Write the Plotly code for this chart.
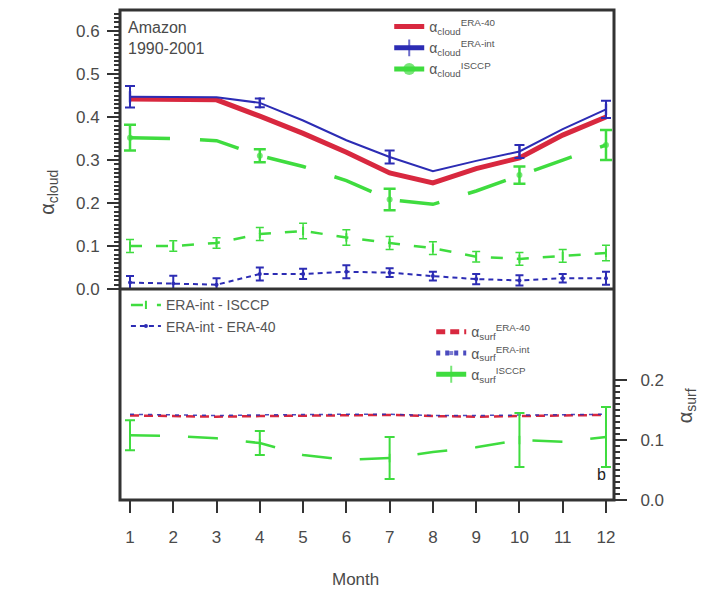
import numpy as np
import plotly.graph_objects as go

# ---- data ----
months = list(range(1, 13))

cloud_era40 = [0.442, 0.442, 0.440, 0.402, 0.362, 0.318, 0.270, 0.247, 0.280, 0.305, 0.358, 0.400]
cloud_erai = [0.447, 0.447, 0.446, 0.433, 0.392, 0.346, 0.307, 0.274, 0.298, 0.320, 0.372, 0.418]
cloud_erai_err = [0.025, None, None, 0.010, None, None, 0.015, None, None, 0.015, None, 0.020]
cloud_isccp = [0.352, 0.350, 0.345, 0.310, 0.285, 0.252, 0.208, 0.197, 0.228, 0.265, 0.300, 0.335]
cloud_isccp_err = [0.030, None, None, 0.015, None, None, 0.025, None, None, 0.020, None, 0.035]

diff_isccp = [0.100, 0.100, 0.107, 0.128, 0.135, 0.120, 0.107, 0.095, 0.075, 0.070, 0.077, 0.084]
diff_isccp_err = [0.015, 0.012, 0.012, 0.015, 0.018, 0.018, 0.015, 0.015, 0.012, 0.015, 0.015, 0.018]
diff_era40 = [0.015, 0.013, 0.010, 0.035, 0.035, 0.040, 0.038, 0.030, 0.023, 0.020, 0.025, 0.025]
diff_era40_err = [0.015, 0.018, 0.015, 0.015, 0.012, 0.015, 0.010, 0.010, 0.012, 0.012, 0.010, 0.015]

surf_era40 = [0.141, 0.140, 0.139, 0.140, 0.141, 0.142, 0.142, 0.140, 0.139, 0.140, 0.141, 0.142]
surf_erai = [0.143, 0.142, 0.141, 0.142, 0.143, 0.143, 0.143, 0.141, 0.141, 0.142, 0.143, 0.143]
surf_isccp = [0.108, 0.107, 0.103, 0.095, 0.075, 0.067, 0.070, 0.080, 0.088, 0.100, 0.097, 0.105]
surf_isccp_err = [0.025, None, None, 0.020, None, None, 0.035, None, None, 0.045, None, 0.050]

cloud_ticks = [0.0, 0.1, 0.2, 0.3, 0.4, 0.5, 0.6]
surf_ticks = [0.0, 0.1, 0.2]
region_label = "Amazon<br>1990-2001"


def arr(values):
    return np.array([np.nan if v is None else v for v in values], dtype=float)


def sizes(err, s):
    # marker only where an error bar is drawn
    return [s if e is not None else 0 for e in err]


RED = "#d8283f"
BLUE = "#2c2cb4"
GREEN = "#3fdc3f"
FRAME = "#333333"
TXT = "#4a4a4a"
FONT = "Liberation Sans, Arial, sans-serif"

fig = go.Figure()

# ---- top panel: cloud albedo ----
fig.add_trace(go.Scatter(
    x=months, y=cloud_era40, mode="lines", xaxis="x2", yaxis="y",
    line=dict(color=RED, width=5), legend="legend",
    name="α<sub>cloud</sub><sup>ERA-40</sup>"))
fig.add_trace(go.Scatter(
    x=months, y=cloud_erai, mode="lines+markers", xaxis="x2", yaxis="y",
    line=dict(color=BLUE, width=2), legend="legend",
    marker=dict(symbol="line-ns-open", size=sizes(cloud_erai_err, 8),
                line=dict(color=BLUE, width=2.5)),
    error_y=dict(type="data", array=arr(cloud_erai_err), color=BLUE,
                 thickness=2, width=5),
    name="α<sub>cloud</sub><sup>ERA-int</sup>"))
fig.add_trace(go.Scatter(
    x=months, y=cloud_isccp, mode="lines+markers", xaxis="x2", yaxis="y",
    line=dict(color=GREEN, width=3.5, dash="40px,30px"), legend="legend",
    marker=dict(symbol="circle", size=sizes(cloud_isccp_err, 6), color=GREEN,
                line=dict(width=0)),
    error_y=dict(type="data", array=arr(cloud_isccp_err), color=GREEN,
                 thickness=2.5, width=6),
    name="α<sub>cloud</sub><sup>ISCCP</sup>"))

# differences, drawn on the cloud axis
fig.add_trace(go.Scatter(
    x=months, y=diff_isccp, mode="lines+markers", xaxis="x2", yaxis="y",
    line=dict(color=GREEN, width=2.5, dash="12px,14px"), legend="legend2",
    marker=dict(symbol="line-ns-open", size=6, line=dict(color=GREEN, width=2)),
    error_y=dict(type="data", array=diff_isccp_err, color=GREEN,
                 thickness=1.5, width=4),
    name="ERA-int - ISCCP"))
fig.add_trace(go.Scatter(
    x=months, y=diff_era40, mode="lines+markers", xaxis="x2", yaxis="y",
    line=dict(color=BLUE, width=2, dash="5px,4px"), legend="legend2",
    marker=dict(symbol="circle", size=4, color=BLUE, line=dict(width=0)),
    error_y=dict(type="data", array=diff_era40_err, color=BLUE,
                 thickness=2, width=4),
    name="ERA-int - ERA-40"))

# ---- bottom panel: surface albedo ----
fig.add_trace(go.Scatter(
    x=months, y=surf_era40, mode="lines", xaxis="x", yaxis="y2",
    line=dict(color=RED, width=2.5, dash="9px,5px"), legend="legend3",
    name="α<sub>surf</sub><sup>ERA-40</sup>"))
fig.add_trace(go.Scatter(
    x=months, y=surf_erai, mode="lines+markers", xaxis="x", yaxis="y2",
    line=dict(color=BLUE, width=1.5, dash="4px,5px"), legend="legend3",
    marker=dict(symbol="square-open", size=[0] * len(months),
                line=dict(color=BLUE, width=2.5)),
    opacity=0.85,
    name="α<sub>surf</sub><sup>ERA-int</sup>"))
fig.add_trace(go.Scatter(
    x=months, y=surf_isccp, mode="lines+markers", xaxis="x", yaxis="y2",
    line=dict(color=GREEN, width=2.5, dash="30px,28px"), legend="legend3",
    marker=dict(symbol="line-ns-open", size=sizes(surf_isccp_err, 6),
                line=dict(color=GREEN, width=2)),
    error_y=dict(type="data", array=arr(surf_isccp_err), color=GREEN,
                 thickness=2, width=5),
    name="α<sub>surf</sub><sup>ISCCP</sup>"))

split = 211 / 490.0
tickfont = dict(family=FONT, size=17, color=TXT)
legfont = dict(family=FONT, size=14, color="#555555")
minor_cloud = [round(0.01 * i, 2) for i in range(0, 65)]
minor_surf = [round(0.01 * i, 2) for i in range(0, 21)]

fig.update_layout(
    width=702, height=596,
    margin=dict(l=120, r=88, t=10, b=96),
    paper_bgcolor="white", plot_bgcolor="white",
    xaxis=dict(domain=[0, 1], range=[0.769, 12.185], anchor="y2",
               tickvals=months, ticks="outside", ticklen=12, tickwidth=2,
               tickcolor=FRAME, showgrid=False, zeroline=False,
               showline=False, tickfont=tickfont, ticklabelstandoff=10),
    xaxis2=dict(domain=[0, 1], range=[0.769, 12.185], anchor="y",
                showticklabels=False, ticks="", showgrid=False,
                zeroline=False, showline=False),
    yaxis=dict(domain=[split, 1], range=[0, 0.649], anchor="x2",
               tickvals=cloud_ticks, tickformat=".1f",
               ticks="outside", ticklen=12, tickwidth=2, tickcolor=FRAME,
               minor=dict(tickvals=minor_cloud, ticks="outside", ticklen=5,
                          tickwidth=1.5, tickcolor=FRAME, showgrid=False),
               showgrid=False, zeroline=False, showline=False,
               tickfont=tickfont, ticklabelstandoff=4),
    yaxis2=dict(domain=[0, split], range=[0, 0.352], anchor="x", side="right",
                tickvals=surf_ticks, tickformat=".1f",
                ticks="outside", ticklen=12, tickwidth=2, tickcolor=FRAME,
                minor=dict(tickvals=minor_surf, ticks="outside", ticklen=5,
                           tickwidth=1.5, tickcolor=FRAME, showgrid=False),
                showgrid=False, zeroline=False, showline=False,
                tickfont=tickfont, ticklabelstandoff=10),
    legend=dict(x=0.545, y=0.998, xanchor="left", yanchor="top",
                bgcolor="rgba(0,0,0,0)", font=legfont, itemsizing="constant",
                tracegroupgap=0, itemwidth=30),
    legend2=dict(x=0.012, y=0.43, xanchor="left", yanchor="top",
                 bgcolor="rgba(0,0,0,0)", font=legfont, itemwidth=30),
    legend3=dict(x=0.63, y=0.375, xanchor="left", yanchor="top",
                 bgcolor="rgba(0,0,0,0)", font=legfont, itemwidth=30,
                 itemsizing="constant"),
    shapes=[
        dict(type="rect", xref="paper", yref="paper", x0=0, x1=1, y0=0, y1=1,
             line=dict(color=FRAME, width=3)),
        dict(type="line", xref="paper", yref="paper", x0=0, x1=1,
             y0=split, y1=split, line=dict(color=FRAME, width=3)),
    ],
    annotations=[
        dict(text=region_label, xref="paper", yref="paper", x=0.012, y=0.985,
             xanchor="left", yanchor="top", align="left", showarrow=False,
             font=dict(family=FONT, size=16, color=TXT)),
        dict(text="α<sub>cloud</sub>", xref="paper", yref="paper",
             x=-0.174, y=0.678, textangle=-90, showarrow=False,
             font=dict(family=FONT, size=20, color=TXT)),
        dict(text="Month", xref="paper", yref="paper", x=0.476, y=-0.185,
             showarrow=False, font=dict(family=FONT, size=17, color=TXT)),
        dict(text="b", xref="paper", yref="paper", x=0.975, y=0.03,
             showarrow=False, font=dict(family=FONT, size=16, color="#222"),
             xanchor="center", yanchor="bottom"),
        dict(text="α<sub>surf</sub>", xref="paper", yref="paper",
             x=1.118, y=0.153, textangle=-90, xanchor="left", showarrow=False,
             font=dict(family=FONT, size=20, color=TXT)),
    ],
)

fig.write_html("out.html")
